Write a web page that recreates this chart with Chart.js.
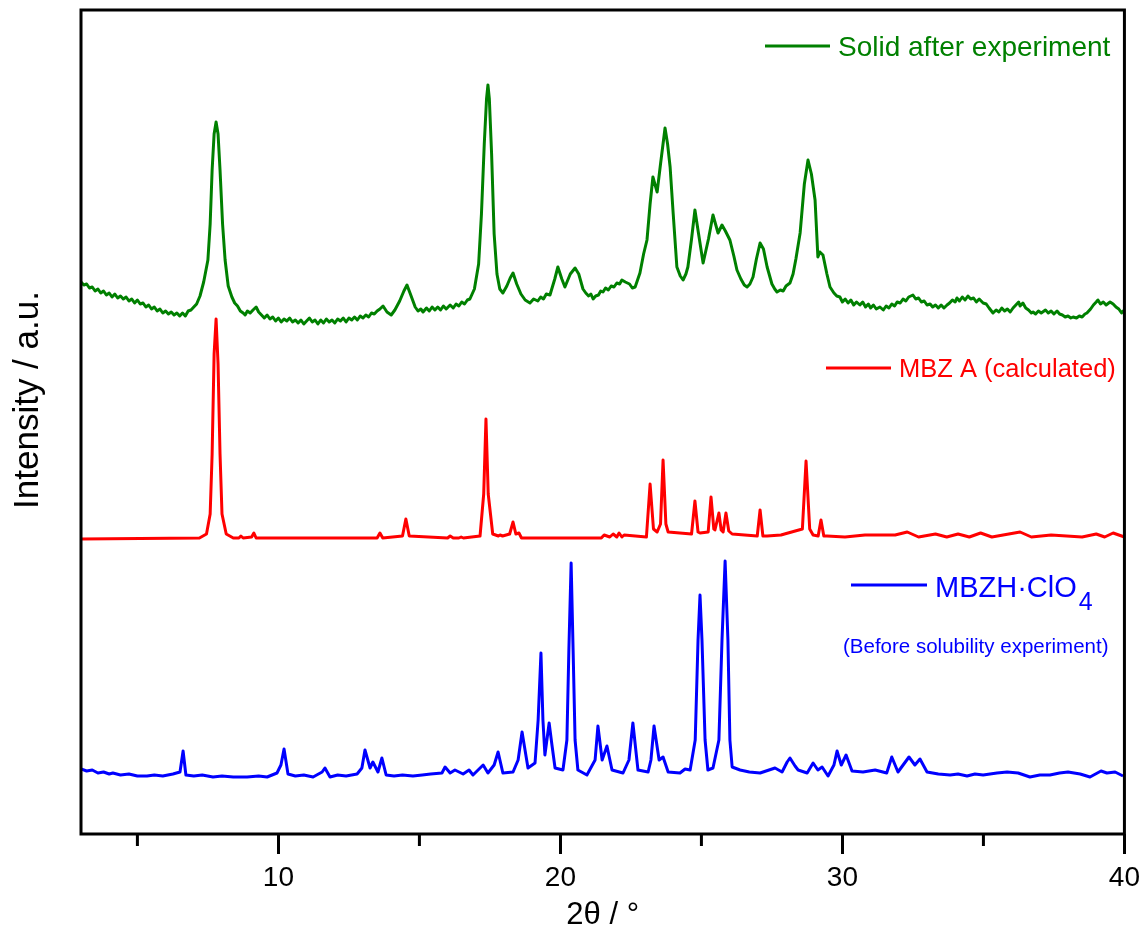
<!DOCTYPE html>
<html>
<head>
<meta charset="utf-8">
<script src="https://cdn.jsdelivr.net/npm/chart.js@4.4.1/dist/chart.umd.min.js"></script>
<style>
  body { margin: 0; background: #fff; }
  canvas { display: block; }
</style>
</head>
<body>
<canvas id="xrd" width="1147" height="940"></canvas>
<script>
// 2theta (deg) and intensity (a.u.), each pattern already stacked
var solidX = [3.0, 3.1, 3.2, 3.3, 3.4, 3.5, 3.6, 3.7, 3.8, 3.9, 4.0, 4.1, 4.2, 4.3, 4.4, 4.5, 4.6, 4.7, 4.8, 4.9, 5.0, 5.1, 5.2, 5.3, 5.4, 5.5, 5.6, 5.7, 5.8, 5.9, 6.0, 6.1, 6.2, 6.3, 6.4, 6.5, 6.6, 6.7, 6.8, 6.9, 7.0, 7.1, 7.22, 7.35, 7.5, 7.58, 7.65, 7.72, 7.79, 7.86, 7.93, 8.02, 8.11, 8.22, 8.35, 8.45, 8.55, 8.65, 8.75, 8.82, 8.9, 9.0, 9.1, 9.21, 9.3, 9.4, 9.5, 9.6, 9.7, 9.8, 9.9, 10.0, 10.1, 10.2, 10.3, 10.4, 10.5, 10.6, 10.7, 10.8, 10.9, 11.0, 11.1, 11.2, 11.3, 11.4, 11.5, 11.6, 11.7, 11.8, 11.9, 12.0, 12.1, 12.2, 12.3, 12.4, 12.5, 12.6, 12.7, 12.8, 12.9, 13.0, 13.1, 13.2, 13.3, 13.4, 13.5, 13.6, 13.71, 13.85, 14.0, 14.13, 14.3, 14.45, 14.56, 14.68, 14.85, 14.95, 15.05, 15.13, 15.25, 15.35, 15.45, 15.55, 15.65, 15.75, 15.85, 15.95, 16.09, 16.2, 16.3, 16.4, 16.5, 16.6, 16.7, 16.79, 16.95, 17.1, 17.2, 17.3, 17.38, 17.43, 17.48, 17.56, 17.65, 17.75, 17.85, 17.96, 18.1, 18.22, 18.32, 18.45, 18.6, 18.75, 18.92, 19.05, 19.2, 19.3, 19.4, 19.5, 19.63, 19.8, 19.91, 20.05, 20.16, 20.35, 20.52, 20.65, 20.8, 20.9, 21.0, 21.08, 21.16, 21.25, 21.35, 21.43, 21.51, 21.6, 21.7, 21.8, 21.9, 22.0, 22.1, 22.18, 22.3, 22.45, 22.55, 22.65, 22.82, 22.95, 23.07, 23.18, 23.28, 23.43, 23.55, 23.71, 23.8, 23.89, 24.0, 24.13, 24.25, 24.35, 24.45, 24.52, 24.65, 24.77, 24.9, 25.06, 25.25, 25.41, 25.5, 25.59, 25.73, 25.85, 26.01, 26.15, 26.26, 26.4, 26.52, 26.62, 26.72, 26.83, 26.95, 27.08, 27.2, 27.33, 27.5, 27.6, 27.68, 27.8, 27.9, 28.0, 28.14, 28.25, 28.35, 28.5, 28.65, 28.78, 28.9, 29.03, 29.13, 29.2, 29.31, 29.45, 29.56, 29.7, 29.8, 29.91, 30.0, 30.1, 30.2, 30.3, 30.4, 30.5, 30.62, 30.72, 30.82, 30.92, 31.0, 31.1, 31.2, 31.33, 31.45, 31.55, 31.65, 31.75, 31.85, 31.94, 32.05, 32.15, 32.25, 32.35, 32.5, 32.6, 32.7, 32.8, 32.9, 33.0, 33.11, 33.2, 33.3, 33.4, 33.5, 33.6, 33.71, 33.8, 33.9, 34.0, 34.06, 34.15, 34.25, 34.35, 34.45, 34.55, 34.65, 34.75, 34.85, 34.99, 35.1, 35.2, 35.34, 35.45, 35.55, 35.65, 35.75, 35.85, 35.95, 36.05, 36.15, 36.25, 36.3, 36.4, 36.5, 36.6, 36.7, 36.76, 36.85, 36.95, 37.05, 37.2, 37.3, 37.4, 37.5, 37.61, 37.7, 37.8, 37.9, 38.0, 38.1, 38.18, 38.3, 38.4, 38.5, 38.6, 38.67, 38.8, 38.9, 39.0, 39.06, 39.15, 39.25, 39.35, 39.49, 39.6, 39.7, 39.8, 39.9, 39.95, 40.0];
var solidY = [552, 549, 550, 546, 547, 543, 545, 541, 543, 539, 541, 537, 540, 536, 538, 535, 537, 533, 535, 531, 534, 530, 531, 527, 529, 525, 527, 523, 525, 521, 523, 520, 522, 519, 521, 518, 521, 518, 523, 524, 527, 530, 538, 552, 574, 610, 664, 700, 712, 700, 664, 610, 574, 548, 537, 531, 528, 523, 521, 519, 523, 521, 524, 527, 522, 519, 516, 519, 515, 517, 513, 516, 512, 515, 513, 516, 512, 514, 511, 514, 510, 513, 516, 512, 514, 510, 514, 511, 515, 512, 514, 511, 515, 513, 516, 512, 516, 514, 517, 514, 518, 516, 519, 517, 521, 520, 523, 525, 528, 522, 519, 524, 533, 543, 549, 540, 527, 523, 525, 522, 526, 523, 527, 524, 527, 524, 528, 525, 529, 526, 530, 528, 532, 530, 534, 535, 545, 570, 620, 690, 735, 749, 735, 680, 600, 560, 545, 541, 548, 556, 561, 550, 540, 534, 531, 535, 533, 537, 535, 540, 539, 555, 567, 555, 547, 560, 566, 560, 545, 541, 538, 540, 535, 538, 539, 543, 542, 546, 544, 548, 547, 551, 550, 554, 552, 550, 546, 547, 561, 580, 594, 630, 657, 642, 670, 706, 690, 667, 620, 567, 558, 554, 560, 567, 595, 624, 600, 571, 595, 619, 610, 601, 609, 603, 594, 578, 564, 555, 549, 547, 550, 557, 575, 591, 585, 567, 550, 545, 542, 544, 543, 548, 551, 560, 575, 601, 650, 674, 660, 634, 577, 582, 579, 560, 547, 541, 538, 537, 532, 535, 531, 534, 529, 532, 529, 532, 527, 530, 526, 529, 525, 527, 524, 528, 526, 530, 528, 532, 531, 535, 533, 537, 539, 535, 536, 532, 533, 529, 530, 527, 529, 526, 529, 526, 529, 531, 534, 532, 536, 533, 537, 534, 538, 535, 536, 532, 535, 531, 530, 526, 521, 524, 522, 526, 523, 525, 522, 526, 529, 532, 528, 531, 526, 524, 521, 522, 520, 523, 521, 524, 521, 523, 520, 523, 520, 519, 517, 518, 516, 517, 516, 518, 517, 520, 521, 525, 529, 532, 534, 530, 532, 529, 532, 530, 527, 525, 521, 523, 521];

var calcX = [3.0, 7.2, 7.45, 7.58, 7.65, 7.72, 7.79, 7.86, 7.93, 8.0, 8.15, 8.4, 8.6, 8.67, 8.75, 9.05, 9.13, 9.21, 13.5, 13.6, 13.7, 14.4, 14.52, 14.64, 16.0, 16.09, 16.2, 16.4, 16.48, 16.56, 17.15, 17.28, 17.36, 17.44, 17.6, 17.8, 17.86, 17.95, 18.2, 18.32, 18.42, 18.53, 18.62, 21.45, 21.55, 21.75, 21.87, 22.0, 22.08, 22.18, 22.26, 23.05, 23.18, 23.3, 23.43, 23.55, 23.64, 23.74, 23.82, 24.65, 24.77, 24.88, 24.95, 25.24, 25.34, 25.44, 25.48, 25.62, 25.7, 25.77, 25.87, 25.97, 26.09, 26.98, 27.08, 27.18, 27.33, 27.82, 28.58, 28.71, 28.84, 28.96, 29.14, 29.24, 29.34, 29.45, 30.09, 30.8, 31.87, 32.3, 32.7, 33.3, 33.7, 34.1, 34.5, 34.9, 35.3, 36.3, 36.7, 37.4, 38.5, 39.0, 39.3, 39.6, 40.0];
var calcY = [295, 296, 300, 320, 380, 480, 515, 470, 380, 320, 300, 296, 296, 298, 296, 297, 301, 296, 296, 301, 296, 298, 315, 298, 296, 298, 296, 296, 297, 296, 298, 340, 415, 340, 300, 298, 299, 298, 300, 312, 300, 301, 296, 296, 299, 297, 300, 297, 301, 297, 299, 297, 350, 305, 302, 310, 374, 310, 302, 300, 333, 302, 301, 302, 337, 305, 304, 321, 304, 302, 321, 303, 300, 298, 324, 298, 298, 299, 305, 373, 305, 299, 298, 314, 298, 298, 297, 299, 299, 302, 297, 300, 297, 300, 297, 301, 297, 302, 297, 299, 297, 300, 297, 301, 297];

var saltX = [3.0, 3.2, 3.4, 3.6, 3.8, 4.0, 4.13, 4.4, 4.7, 5.0, 5.34, 5.6, 5.9, 6.26, 6.51, 6.62, 6.72, 7.0, 7.3, 7.68, 8.0, 8.4, 8.89, 9.3, 9.6, 9.95, 10.09, 10.2, 10.34, 10.6, 10.9, 11.23, 11.55, 11.65, 11.83, 12.1, 12.4, 12.79, 12.96, 13.07, 13.25, 13.35, 13.53, 13.67, 13.82, 14.1, 14.4, 14.77, 15.1, 15.4, 15.8, 15.91, 16.09, 16.26, 16.55, 16.76, 16.9, 17.26, 17.43, 17.65, 17.79, 17.96, 18.32, 18.5, 18.64, 18.85, 19.1, 19.21, 19.31, 19.38, 19.45, 19.6, 19.7, 19.81, 20.09, 20.23, 20.3, 20.38, 20.45, 20.52, 20.62, 20.94, 21.23, 21.33, 21.48, 21.65, 21.83, 22.22, 22.43, 22.57, 22.75, 23.11, 23.21, 23.32, 23.5, 23.64, 23.82, 24.24, 24.42, 24.6, 24.78, 24.88, 24.95, 25.02, 25.13, 25.23, 25.41, 25.62, 25.73, 25.84, 25.94, 26.01, 26.09, 26.37, 26.7, 27.08, 27.61, 27.86, 28.04, 28.14, 28.32, 28.43, 28.75, 28.96, 29.13, 29.28, 29.49, 29.7, 29.81, 29.96, 30.13, 30.34, 30.73, 31.16, 31.57, 31.75, 31.97, 32.36, 32.57, 32.75, 33.0, 33.4, 33.82, 34.1, 34.42, 34.7, 34.99, 35.48, 35.84, 36.23, 36.65, 37.0, 37.36, 37.7, 38.0, 38.43, 38.78, 39.17, 39.38, 39.67, 39.95];
var saltY = [65, 63, 64, 61, 62, 60, 61, 59, 60, 58, 58, 59, 58, 60, 62, 83, 59, 58, 59, 57, 58, 57, 57, 58, 57, 61, 69, 85, 60, 58, 59, 57, 62, 66, 57, 59, 58, 60, 66, 84, 66, 72, 62, 76, 59, 58, 59, 58, 59, 60, 61, 67, 61, 64, 60, 64, 59, 69, 61, 69, 82, 61, 62, 74, 102, 66, 71, 114, 181, 114, 79, 111, 89, 66, 64, 94, 184, 271, 184, 94, 64, 59, 74, 108, 74, 88, 64, 61, 74, 111, 64, 62, 74, 108, 74, 77, 62, 61, 65, 64, 94, 194, 239, 194, 94, 64, 66, 94, 194, 273, 194, 94, 67, 64, 62, 61, 66, 62, 72, 76, 68, 64, 61, 71, 64, 67, 58, 69, 83, 69, 79, 63, 62, 64, 61, 77, 62, 77, 69, 75, 62, 60, 59, 60, 58, 60, 59, 61, 62, 61, 57, 59, 59, 61, 62, 60, 57, 63, 61, 62, 58];

var seriesNames = ['Solid after experiment', 'MBZ A (calculated)', 'MBZH\u00b7ClO'];
var seriesColors = ['#008000', '#ff0000', '#0000ff'];
var xTicks = [10, 20, 30, 40];
var xMinorTicks = [5, 15, 25, 35];

function toPoints(xs, ys) {
  return xs.map(function (x, i) { return { x: x, y: ys[i] }; });
}

var FONT = '"Liberation Sans", Arial, sans-serif';

// box round the plot + short minor ticks + the rotated y title
var framePlugin = {
  id: 'frame',
  afterDraw: function (chart) {
    var ctx = chart.ctx, a = chart.chartArea, xs = chart.scales.x;
    ctx.save();
    ctx.strokeStyle = '#000';
    ctx.lineWidth = 3;
    ctx.strokeRect(a.left, a.top, a.right - a.left, a.bottom - a.top);
    xMinorTicks.forEach(function (v) {
      var px = xs.getPixelForValue(v);
      ctx.beginPath();
      ctx.moveTo(px, a.bottom);
      ctx.lineTo(px, a.bottom + 12);
      ctx.stroke();
    });
    ctx.translate(28, 400);
    ctx.rotate(-Math.PI / 2);
    ctx.fillStyle = '#000';
    ctx.font = '35px ' + FONT;
    ctx.textAlign = 'center';
    ctx.textBaseline = 'middle';
    ctx.fillText('Intensity / a.u.', 0, 0);
    ctx.restore();
  }
};

// labels that sit inside the plot next to each pattern
var labelPlugin = {
  id: 'patternLabels',
  afterDraw: function (chart) {
    var ctx = chart.ctx;
    ctx.save();
    ctx.lineWidth = 3;
    ctx.textBaseline = 'alphabetic';
    ctx.textAlign = 'left';

    function sample(x1, x2, y, col) {
      ctx.strokeStyle = col;
      ctx.beginPath();
      ctx.moveTo(x1, y);
      ctx.lineTo(x2, y);
      ctx.stroke();
    }

    sample(765, 830, 46, seriesColors[0]);
    ctx.fillStyle = seriesColors[0];
    ctx.font = '28px ' + FONT;
    ctx.fillText(seriesNames[0], 838, 56);

    sample(826, 891, 368, seriesColors[1]);
    ctx.fillStyle = seriesColors[1];
    ctx.font = '25.5px ' + FONT;
    ctx.fillText(seriesNames[1], 899, 377);

    sample(851, 927, 585, seriesColors[2]);
    ctx.fillStyle = seriesColors[2];
    ctx.font = '29px ' + FONT;
    ctx.fillText(seriesNames[2], 935, 597);
    var w = ctx.measureText(seriesNames[2]).width;
    ctx.font = '25px ' + FONT;
    ctx.fillText('4', 935 + w + 2, 610);
    ctx.font = '20.5px ' + FONT;
    ctx.fillText('(Before solubility experiment)', 843, 653);
    ctx.restore();
  }
};

new Chart(document.getElementById('xrd'), {
  type: 'line',
  data: {
    datasets: [
      { label: seriesNames[0], data: toPoints(solidX, solidY), borderColor: seriesColors[0] },
      { label: seriesNames[1], data: toPoints(calcX, calcY), borderColor: seriesColors[1] },
      { label: seriesNames[2], data: toPoints(saltX, saltY), borderColor: seriesColors[2] }
    ]
  },
  options: {
    responsive: false,
    devicePixelRatio: 1,
    animation: false,
    layout: { padding: { left: 0, right: 22, top: 10, bottom: 0 } },
    elements: {
      line: { borderWidth: 3, tension: 0, borderJoinStyle: 'round' },
      point: { radius: 0 }
    },
    plugins: { legend: { display: false }, tooltip: { enabled: false } },
    scales: {
      x: {
        type: 'linear',
        min: 3,
        max: 40,
        afterFit: function (s) { s.height = 106; },
        afterBuildTicks: function (s) { s.ticks = xTicks.map(function (v) { return { value: v }; }); },
        border: { display: false },
        grid: { drawOnChartArea: false, drawTicks: true, tickLength: 20, tickWidth: 3, tickColor: '#000' },
        ticks: { color: '#000', padding: 7, maxRotation: 0, font: { family: FONT, size: 28 } },
        title: { display: true, text: '2\u03b8 / \u00b0', color: '#000', padding: { top: 0, bottom: 6 }, font: { family: FONT, size: 31 } }
      },
      y: {
        min: 0,
        max: 824,
        afterFit: function (s) { s.width = 81; },
        border: { display: false },
        grid: { display: false },
        ticks: { display: false },
        title: { display: false }
      }
    }
  },
  plugins: [framePlugin, labelPlugin]
});
</script>
</body>
</html>
